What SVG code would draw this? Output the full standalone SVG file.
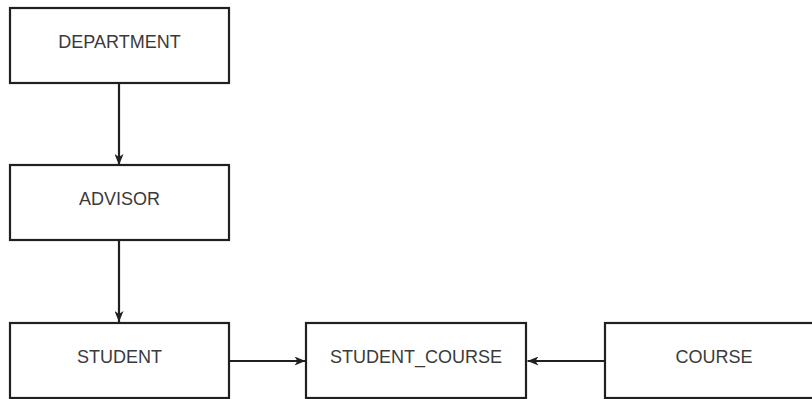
<svg xmlns="http://www.w3.org/2000/svg" width="812" height="399" viewBox="0 0 812 399">
  <style>
    .box { fill: #ffffff; stroke: #231f20; stroke-width: 2.2; }
    .label { font-family: "Liberation Sans", Arial, sans-serif; font-size: 18px; fill: #3a3a3a; text-anchor: middle; }
    .link { stroke: #231f20; stroke-width: 2.2; fill: none; marker-end: url(#arrow); }
  </style>
  <defs>
    <marker id="arrow" viewBox="0 0 11 9" refX="11" refY="4.5" markerWidth="11" markerHeight="9" markerUnits="userSpaceOnUse" orient="auto">
      <path d="M0,0 L11,4.5 L0,9 L3,4.5 Z" fill="#231f20"/>
    </marker>
  </defs>
  <rect width="812" height="399" fill="#ffffff"/>

  <g id="connectors">
    <line class="link" x1="119" y1="83" x2="119" y2="165"/>
    <line class="link" x1="119" y1="240" x2="119" y2="322"/>
    <line class="link" x1="229" y1="361" x2="305.5" y2="361"/>
    <line class="link" x1="605" y1="361" x2="527.5" y2="361"/>
  </g>

  <g id="department">
    <rect class="box" x="10" y="8" width="219" height="75"/>
    <text class="label" x="119.5" y="48">DEPARTMENT</text>
  </g>
  <g id="advisor">
    <rect class="box" x="10" y="165" width="219" height="75"/>
    <text class="label" x="119.5" y="205">ADVISOR</text>
  </g>
  <g id="student">
    <rect class="box" x="10" y="323" width="219" height="75"/>
    <text class="label" x="119.5" y="363">STUDENT</text>
  </g>
  <g id="student_course">
    <rect class="box" x="306" y="323" width="220" height="75"/>
    <text class="label" x="416" y="363">STUDENT_COURSE</text>
  </g>
  <g id="course">
    <rect class="box" x="605" y="323" width="215" height="75"/>
    <text class="label" x="714" y="363">COURSE</text>
  </g>
</svg>
